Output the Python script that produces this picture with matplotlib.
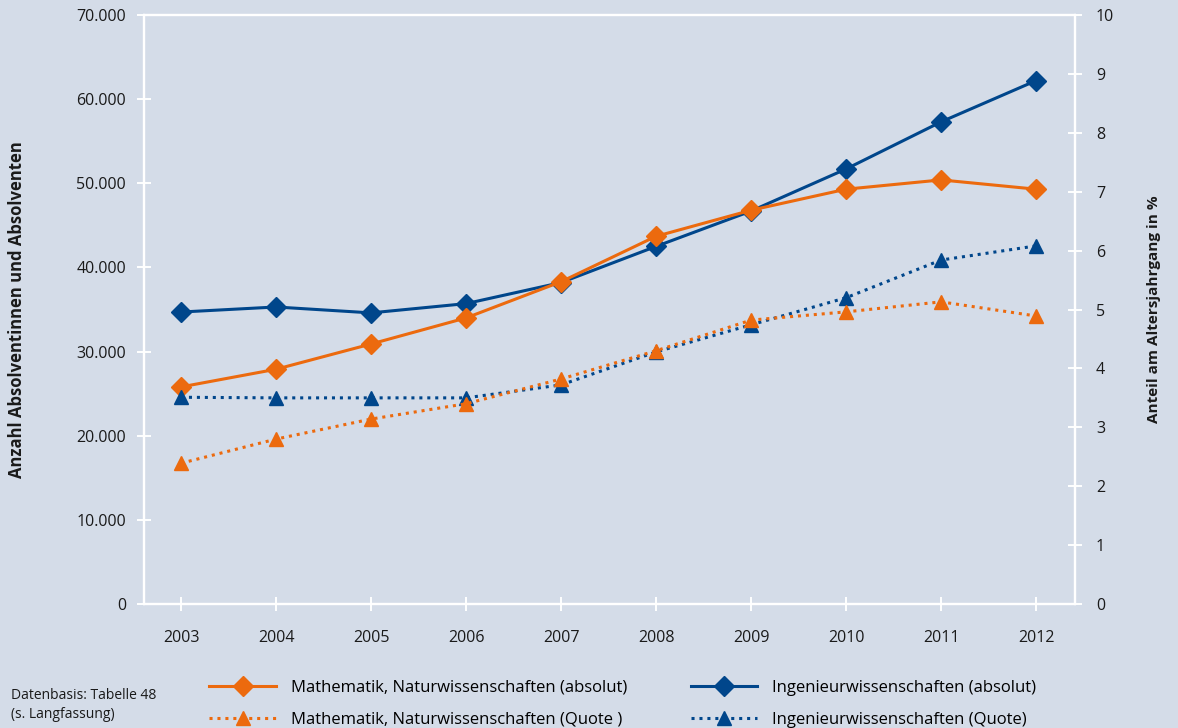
import matplotlib
matplotlib.use("Agg")
import matplotlib.pyplot as plt
from matplotlib.ticker import FuncFormatter

# -------------------------------------------------
# Data
# -------------------------------------------------
years = [2003, 2004, 2005, 2006, 2007, 2008, 2009, 2010, 2011, 2012]

mint_abs = [25800, 27900, 30900, 34000, 38300, 43700, 46800, 49300, 50400, 49300]
ing_abs = [34700, 35300, 34600, 35700, 38200, 42500, 46700, 51700, 57300, 62200]

mint_quote = [2.39, 2.80, 3.14, 3.40, 3.82, 4.30, 4.82, 4.96, 5.13, 4.89]
ing_quote = [3.51, 3.50, 3.50, 3.50, 3.72, 4.28, 4.74, 5.20, 5.84, 6.08]

label_mint_abs = "Mathematik, Naturwissenschaften (absolut)"
label_mint_quote = "Mathematik, Naturwissenschaften (Quote )"
label_ing_abs = "Ingenieurwissenschaften (absolut)"
label_ing_quote = "Ingenieurwissenschaften (Quote)"

# -------------------------------------------------
# Style
# -------------------------------------------------
BG = "#D4DCE8"
ORANGE = "#EC6A0E"
BLUE = "#00468B"
TXT = "#1a1a1a"
plt.rcParams["font.family"] = ["Open Sans", "DejaVu Sans"]
plt.rcParams["font.size"] = 11.5

fig = plt.figure(figsize=(11.78, 7.28), dpi=100, facecolor=BG)
ax = fig.add_axes([0.1222, 0.1703, 0.7904, 0.8091])
ax.set_facecolor(BG)
ax2 = ax.twinx()

dotted = (0, (1, 1.6))

l1, = ax.plot(years, ing_abs, color=BLUE, lw=2.2, marker="D", ms=10, label=label_ing_abs)
l2, = ax.plot(years, mint_abs, color=ORANGE, lw=2.2, marker="D", ms=10, label=label_mint_abs)
l3, = ax2.plot(years, ing_quote, color=BLUE, lw=2.2, ls=dotted, marker="^", ms=10, label=label_ing_quote)
l4, = ax2.plot(years, mint_quote, color=ORANGE, lw=2.2, ls=dotted, marker="^", ms=10, label=label_mint_quote)

ax.set_xlim(2002.61, 2012.41)
ax.set_ylim(0, 70000)
ax2.set_ylim(0, 10)
ax.set_xticks(years)
ax.set_yticks(range(0, 70001, 10000))
ax2.set_yticks(range(0, 11))
ax.yaxis.set_major_formatter(FuncFormatter(lambda v, p: f"{int(v):,}".replace(",", ".")))

for a in (ax, ax2):
    for s in a.spines.values():
        s.set_color("white")
        s.set_linewidth(1.6)
    a.tick_params(colors="white", labelcolor=TXT, width=1.4, labelsize=11.5)

ax.tick_params(axis="y", direction="inout", length=10, pad=8)
ax2.tick_params(axis="y", direction="inout", length=10, pad=10)
ax.tick_params(axis="x", direction="inout", length=10, pad=14)

ax.set_ylabel("Anzahl Absolventinnen und Absolventen", fontweight="bold", fontsize=12, color=TXT)
ax.yaxis.set_label_coords(-0.1267, 0.5)
ax2.set_ylabel("Anteil am Altersjahrgang in %", fontweight="bold", fontsize=11, rotation=90, color=TXT)
ax2.yaxis.set_label_coords(1.0773, 0.5)

# -------------------------------------------------
# Legend and source note
# -------------------------------------------------
fig.legend(handles=[l2, l4, l1, l3], loc="lower left", bbox_to_anchor=(0.165, -0.020),
           ncol=2, frameon=False, fontsize=12, handlelength=4.0, handletextpad=0.9,
           columnspacing=3.8, labelspacing=0.95)

fig.text(0.009, 0.032, "Datenbasis: Tabelle 48\n(s. Langfassung)", fontsize=10,
         va="center", ha="left", color=TXT, linespacing=1.35)

fig.savefig("out.png", dpi=100, facecolor=BG)
